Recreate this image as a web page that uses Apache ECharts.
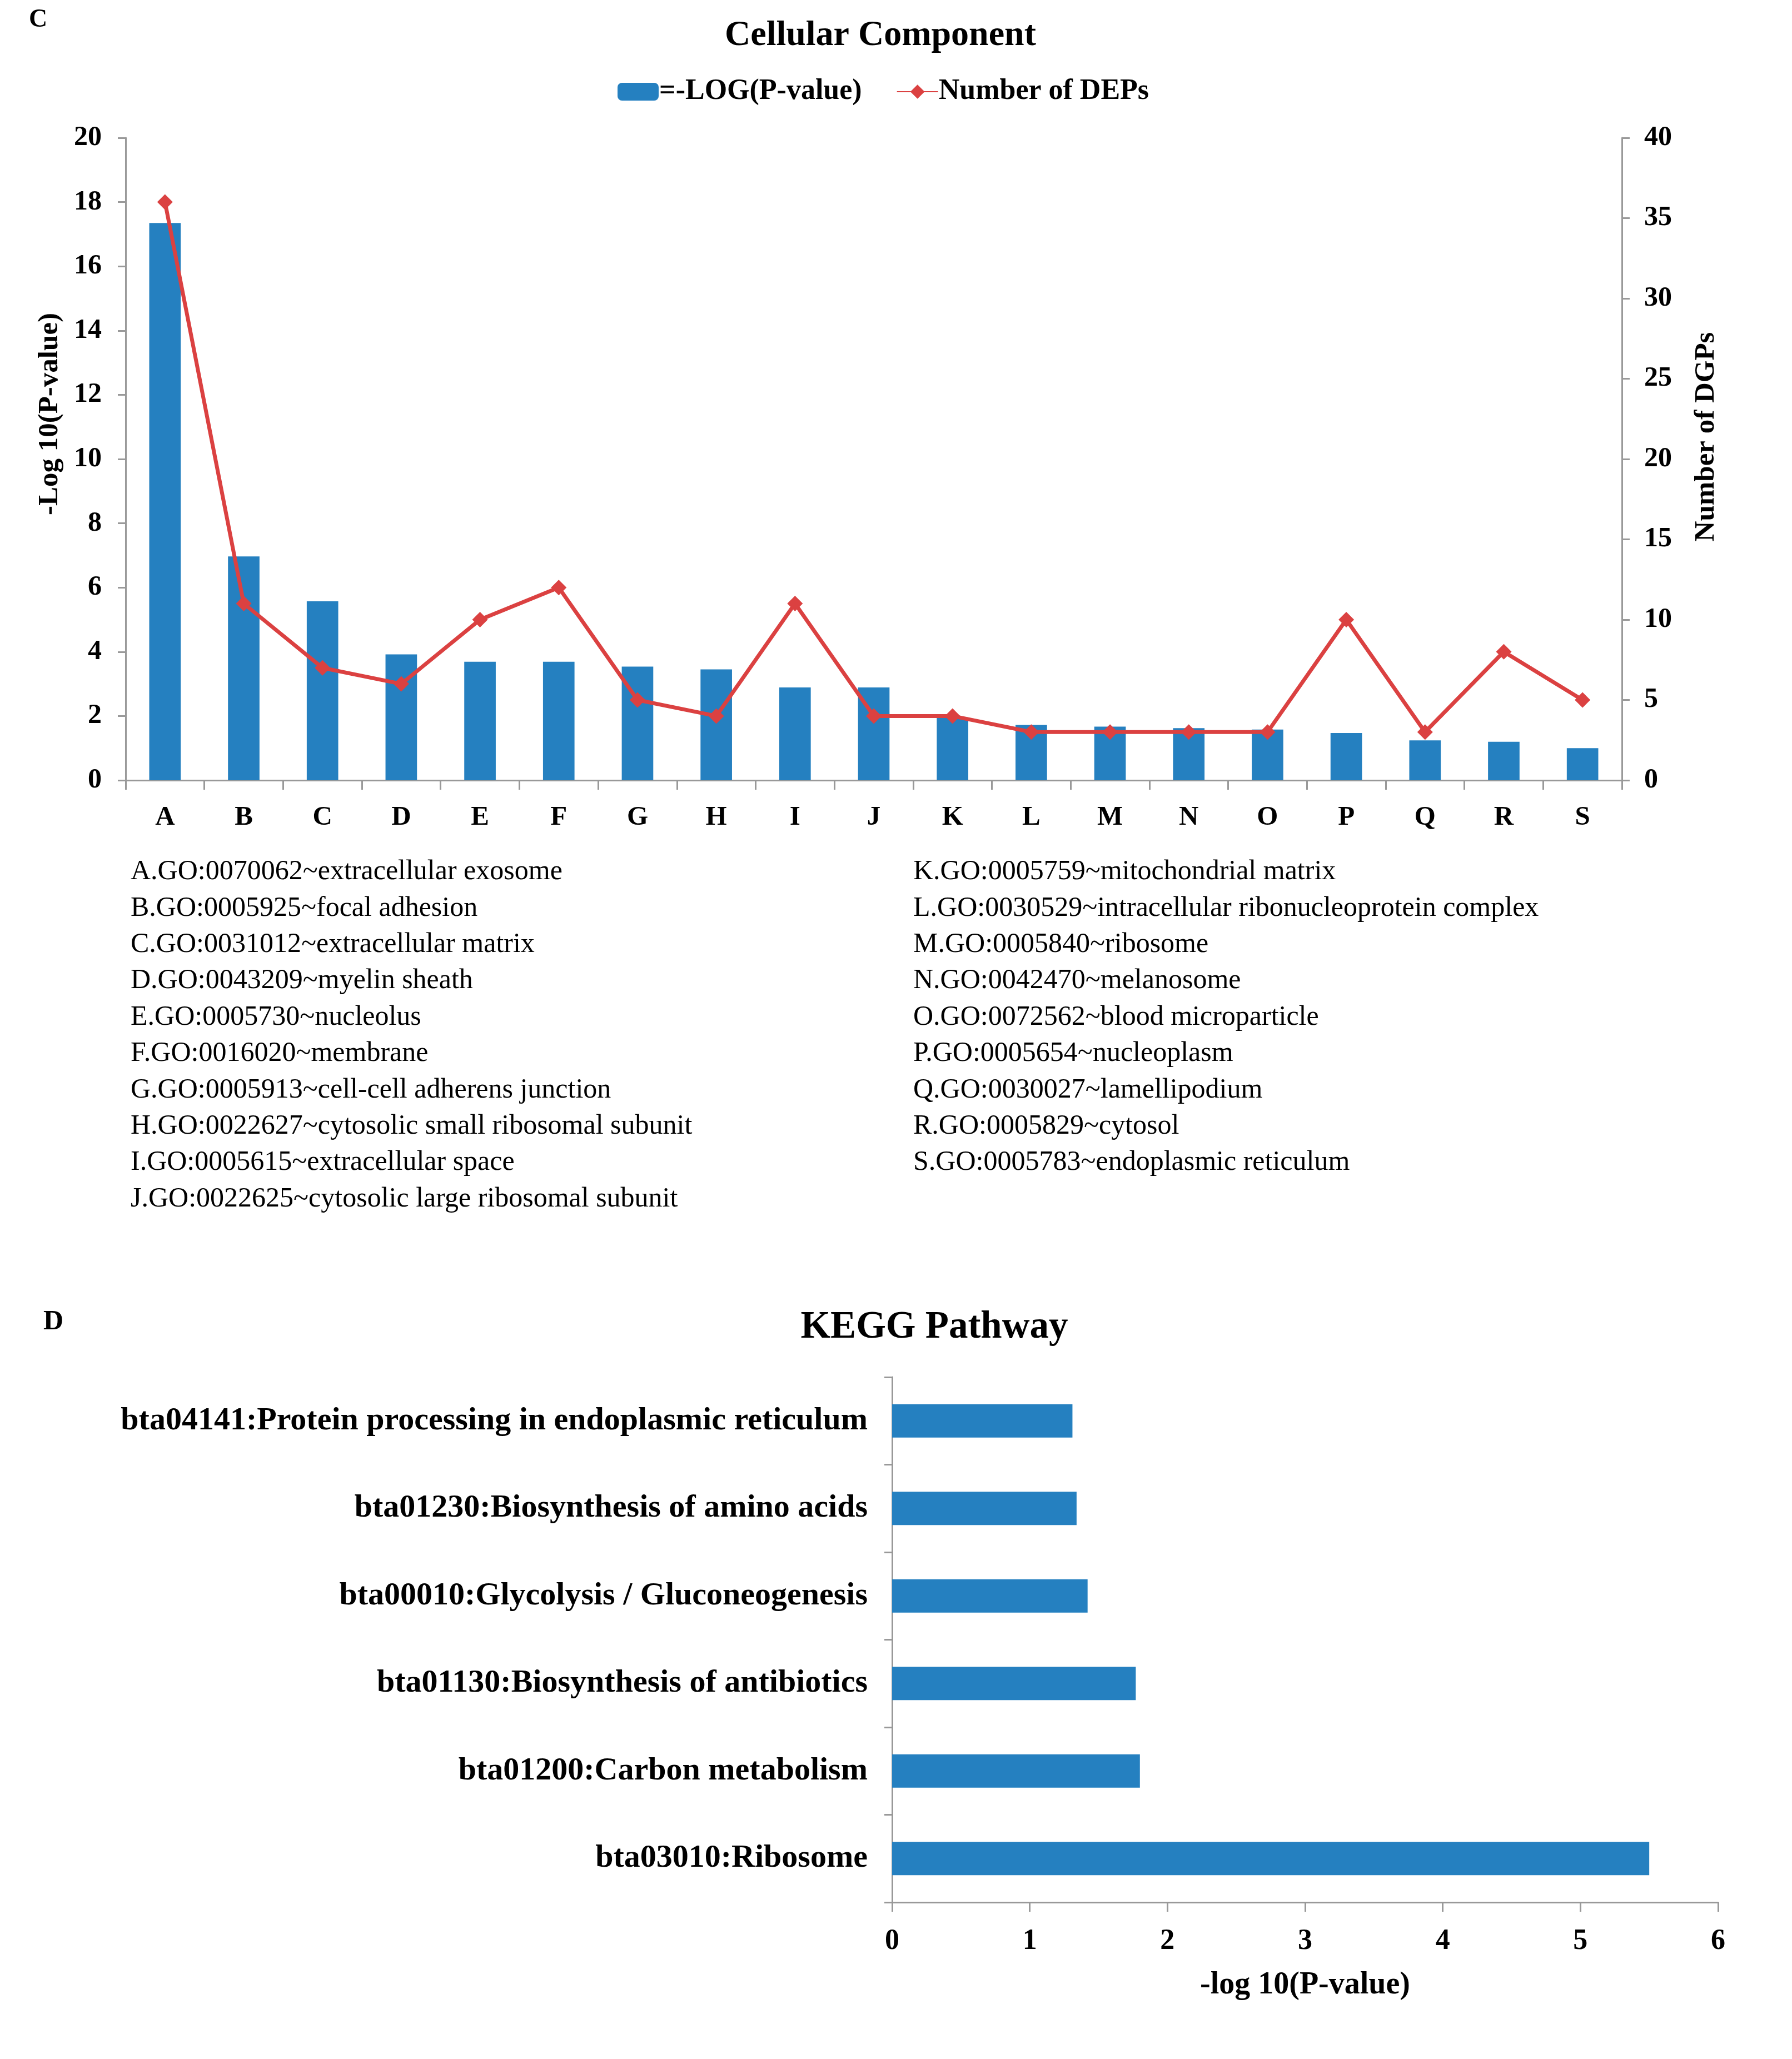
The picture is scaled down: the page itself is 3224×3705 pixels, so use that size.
<!DOCTYPE html>
<html>
<head>
<meta charset="utf-8">
<style>
html,body{margin:0;padding:0;background:#fff;}
#chart{width:3224px;height:3705px;}
</style>
<script src="https://cdn.jsdelivr.net/npm/echarts@6/dist/echarts.min.js"></script>
</head>
<body>
<div id="chart"></div>
<script>
// ---- data ----
const categories = ['A','B','C','D','E','F','G','H','I','J','K','L','M','N','O','P','Q','R','S'];
const logPValues = [17.35, 6.97, 5.57, 3.92, 3.69, 3.69, 3.54, 3.45, 2.89, 2.89, 1.96, 1.72, 1.67, 1.62, 1.58, 1.47, 1.24, 1.20, 1.00];
const numDEPs = [36, 11, 7, 6, 10, 12, 5, 4, 11, 4, 4, 3, 3, 3, 3, 10, 3, 8, 5];
const leftTicks = [0, 20, 2];   // min, max, interval
const rightTicks = [0, 40, 5];
const termsLeft = [
  'A.GO:0070062~extracellular exosome',
  'B.GO:0005925~focal adhesion',
  'C.GO:0031012~extracellular matrix',
  'D.GO:0043209~myelin sheath',
  'E.GO:0005730~nucleolus',
  'F.GO:0016020~membrane',
  'G.GO:0005913~cell-cell adherens junction',
  'H.GO:0022627~cytosolic small ribosomal subunit',
  'I.GO:0005615~extracellular space',
  'J.GO:0022625~cytosolic large ribosomal subunit'
];
const termsRight = [
  'K.GO:0005759~mitochondrial matrix',
  'L.GO:0030529~intracellular ribonucleoprotein complex',
  'M.GO:0005840~ribosome',
  'N.GO:0042470~melanosome',
  'O.GO:0072562~blood microparticle',
  'P.GO:0005654~nucleoplasm',
  'Q.GO:0030027~lamellipodium',
  'R.GO:0005829~cytosol',
  'S.GO:0005783~endoplasmic reticulum'
];
const keggPathways = [
  'bta03010:Ribosome',
  'bta01200:Carbon metabolism',
  'bta01130:Biosynthesis of antibiotics',
  'bta00010:Glycolysis / Gluconeogenesis',
  'bta01230:Biosynthesis of amino acids',
  'bta04141:Protein processing in endoplasmic reticulum'
];
const keggValues = [5.50, 1.80, 1.77, 1.42, 1.34, 1.31];
const keggTicks = [0, 6, 1];

// ---- style ----
const SERIF = '"Liberation Serif", "Times New Roman", serif';
const BLUE = '#2580C0';
const RED = '#DB4141';
const AXIS = '#999999';

function txt(text, x, y, size, weight, align, rot) {
  return {
    type: 'text', x: x, y: y, rotation: rot || 0,
    style: {
      text: text, fontSize: size, fontFamily: SERIF, fontWeight: weight,
      fill: '#000', align: align, verticalAlign: 'middle',
      textAlign: align, textVerticalAlign: 'middle'
    }
  };
}

const graphics = [];
graphics.push(txt('C', 52, 36, 46, 'bold', 'left'));
graphics.push(txt('D', 78, 2379, 50, 'bold', 'left'));
graphics.push(txt('-Log 10(P-value)', 90, 745, 51, 'bold', 'center', Math.PI / 2));
graphics.push(txt('Number of DGPs', 3070, 786, 51, 'bold', 'center', Math.PI / 2));
termsLeft.forEach((t, i) => graphics.push(txt(t, 235, 1569 + i * 65.4, 50, 'normal', 'left')));
termsRight.forEach((t, i) => graphics.push(txt(t, 1643, 1569 + i * 65.4, 50, 'normal', 'left')));

const axisLine = { show: true, lineStyle: { color: AXIS, width: 3 } };
const labelStyle = { fontFamily: SERIF, fontWeight: 'bold', color: '#000' };

const option = {
  backgroundColor: '#fff',
  animation: false,
  title: [
    { text: 'Cellular Component', left: 1579, top: 27, textAlign: 'center',
      textStyle: { fontFamily: SERIF, fontWeight: 'bold', fontSize: 64, color: '#000' } },
    { text: 'KEGG Pathway', left: 1676, top: 2350, textAlign: 'center',
      textStyle: { fontFamily: SERIF, fontWeight: 'bold', fontSize: 69, color: '#000' } }
  ],
  legend: {
    data: ['=-LOG(P-value)', 'Number of DEPs'],
    left: 1106, top: 134, itemWidth: 74, itemHeight: 32, itemGap: 62,
    textStyle: { fontFamily: SERIF, fontWeight: 'bold', fontSize: 52, color: '#000', padding: [0, 0, 0, -4] }
  },
  grid: [
    { left: 226, top: 248, right: 306, bottom: 2301, containLabel: false },
    { left: 1605, top: 2478, right: 133, bottom: 282, containLabel: false }
  ],
  xAxis: [
    { type: 'category', gridIndex: 0, data: categories, boundaryGap: true,
      axisLine: axisLine,
      axisTick: { show: true, length: 17, alignWithLabel: false, lineStyle: { color: AXIS, width: 3 } },
      axisLabel: Object.assign({ fontSize: 49, margin: 43 }, labelStyle),
      splitLine: { show: false } },
    { type: 'value', gridIndex: 1, min: keggTicks[0], max: keggTicks[1], interval: keggTicks[2],
      axisLine: axisLine,
      axisTick: { show: true, length: 17, lineStyle: { color: AXIS, width: 3 } },
      axisLabel: Object.assign({ fontSize: 52, margin: 45 }, labelStyle),
      splitLine: { show: false },
      name: '-log 10(P-value)', nameLocation: 'middle', nameGap: 122,
      nameTextStyle: { fontFamily: SERIF, fontWeight: 'bold', fontSize: 56, color: '#000' } }
  ],
  yAxis: [
    { type: 'value', gridIndex: 0, min: leftTicks[0], max: leftTicks[1], interval: leftTicks[2],
      axisLine: axisLine,
      axisTick: { show: true, length: 14, lineStyle: { color: AXIS, width: 3 } },
      axisLabel: Object.assign({ fontSize: 50, margin: 43 }, labelStyle),
      splitLine: { show: false } },
    { type: 'value', gridIndex: 0, position: 'right', min: rightTicks[0], max: rightTicks[1], interval: rightTicks[2],
      axisLine: axisLine,
      axisTick: { show: true, length: 14, lineStyle: { color: AXIS, width: 3 } },
      axisLabel: Object.assign({ fontSize: 50, margin: 40 }, labelStyle),
      splitLine: { show: false } },
    { type: 'category', gridIndex: 1, data: keggPathways, boundaryGap: true,
      axisLine: axisLine,
      axisTick: { show: true, length: 14, alignWithLabel: false, lineStyle: { color: AXIS, width: 3 } },
      axisLabel: Object.assign({ fontSize: 58, margin: 44 }, labelStyle),
      splitLine: { show: false } }
  ],
  series: [
    { name: '=-LOG(P-value)', type: 'bar', xAxisIndex: 0, yAxisIndex: 0,
      data: logPValues, barWidth: '40%', itemStyle: { color: BLUE } },
    { name: 'Number of DEPs', type: 'line', xAxisIndex: 0, yAxisIndex: 1,
      data: numDEPs, symbol: 'diamond', symbolSize: 28,
      lineStyle: { color: RED, width: 7 }, itemStyle: { color: RED } },
    { name: 'KEGG', type: 'bar', xAxisIndex: 1, yAxisIndex: 2,
      data: keggValues, barWidth: '38%', itemStyle: { color: BLUE } }
  ],
  graphic: graphics
};

const chart = echarts.init(document.getElementById('chart'), null, { renderer: 'canvas' });
chart.setOption(option);
</script>
</body>
</html>
